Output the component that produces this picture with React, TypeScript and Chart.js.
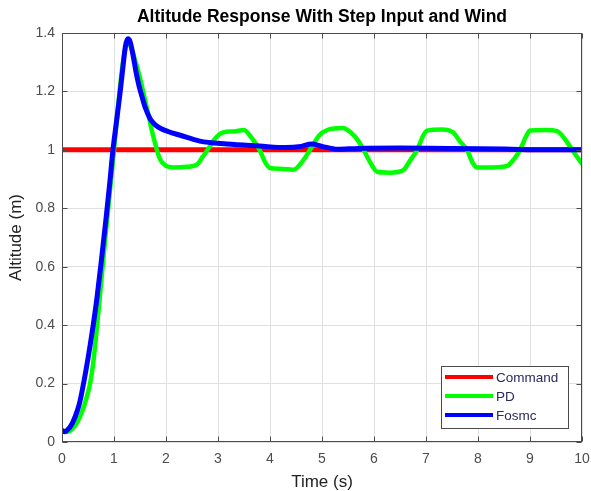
import { useEffect, useRef } from "react";
import { Chart, registerables } from "chart.js";

Chart.register(...registerables);

// Step command (m)
const timeCommand = [0, 10];
const altCommand = [1, 1];

// PD controller response under wind disturbance
const timePD = [
  0, 0.1, 0.2, 0.3, 0.4, 0.5, 0.54, 0.6, 0.67, 0.75, 0.85, 0.95, 1.0, 1.08, 1.15, 1.21, 1.27, 1.33,
  1.4, 1.48, 1.56, 1.65, 1.75, 1.88, 2.0, 2.13, 2.4, 2.6, 2.7, 2.8, 2.95, 3.1, 3.3, 3.5, 3.65, 3.8, 3.9,
  4.0, 4.2, 4.45, 4.6, 4.77, 4.95, 5.1, 5.4, 5.55, 5.7, 5.8, 5.95, 6.06, 6.3, 6.56, 6.7, 6.83, 6.95,
  7.02, 7.3, 7.52, 7.65, 7.79, 7.9, 7.98, 8.3, 8.56, 8.7, 8.81, 8.92, 9.0, 9.3, 9.52, 9.7, 9.85, 10,
];
const altPD = [
  0.04, 0.035, 0.045, 0.07, 0.11, 0.17, 0.2, 0.27, 0.39, 0.54, 0.73, 0.91, 1.0, 1.15, 1.27, 1.34, 1.365,
  1.35, 1.31, 1.26, 1.2, 1.13, 1.05, 0.97, 0.945, 0.94, 0.942, 0.95, 0.975, 1.0, 1.04, 1.06, 1.063, 1.068,
  1.04, 1.0, 0.96, 0.938, 0.935, 0.932, 0.955, 1.0, 1.05, 1.068, 1.075, 1.06, 1.03, 1.0, 0.95, 0.925,
  0.922, 0.93, 0.965, 1.0, 1.05, 1.066, 1.07, 1.06, 1.03, 1.0, 0.955, 0.94, 0.94, 0.945, 0.97, 1.0,
  1.045, 1.066, 1.068, 1.064, 1.03, 0.99, 0.952,
];

// Fractional-order sliding mode controller response
const timeFosmc = [
  0, 0.05, 0.1, 0.2, 0.3, 0.35, 0.45, 0.54, 0.6, 0.67, 0.75, 0.85, 0.92, 0.98, 1.05, 1.12, 1.17, 1.22,
  1.27, 1.31, 1.36, 1.42, 1.48, 1.55, 1.6, 1.7, 1.8, 1.9, 2.05, 2.27, 2.65, 3.17, 3.8, 4.3, 4.6, 4.8,
  5.0, 5.3, 5.7, 6.5, 7.5, 8.5, 9.3, 10,
];
const altFosmc = [
  0.04, 0.035, 0.04, 0.065, 0.11, 0.143, 0.235, 0.33, 0.4, 0.49, 0.61, 0.77, 0.89, 1.0, 1.1, 1.2, 1.28,
  1.355, 1.38, 1.37, 1.33, 1.27, 1.22, 1.175, 1.145, 1.105, 1.085, 1.073, 1.062, 1.05, 1.03, 1.02, 1.013,
  1.008, 1.012, 1.02, 1.012, 1.002, 1.005, 1.006, 1.005, 1.003, 1.0, 1.0,
];

const chartTitle = "Altitude Response With Step Input and Wind";
const xAxisTitle = "Time (s)";
const yAxisTitle = "Altitude (m)";
const seriesNames = ["Command", "PD", "Fosmc"];
const seriesColors = ["#ff0000", "#00ff00", "#0000ff"];
const xTickValues = [0, 1, 2, 3, 4, 5, 6, 7, 8, 9, 10];
const yTickValues = [0, 0.2, 0.4, 0.6, 0.8, 1, 1.2, 1.4];

const AXIS_COLOR = "#4a4a4a";
const GRID_COLOR = "#e0e0e0";
const TICK_COLOR = "#4d4d4d";
const FONT = "'Liberation Sans', Arial, sans-serif";

const toPoints = (xs: number[], ys: number[]) => xs.map((x, i) => ({ x, y: ys[i] }));

const decorations = {
  id: "decorations",
  afterDatasetsDraw(chart: any) {
    const { ctx, chartArea: a, scales } = chart;
    const L = Math.round(a.left) + 0.5;
    const R = Math.round(a.right) - 0.5;
    const T = Math.round(a.top) + 0.5;
    const B = Math.round(a.bottom) - 0.5;
    ctx.save();
    ctx.strokeStyle = AXIS_COLOR;
    ctx.lineWidth = 1;
    ctx.strokeRect(L, T, R - L, B - T);
    const tk = 5;
    ctx.beginPath();
    xTickValues.forEach((v) => {
      const px = Math.round(scales.x.getPixelForValue(v)) + 0.5;
      ctx.moveTo(px, B);
      ctx.lineTo(px, B - tk);
      ctx.moveTo(px, T);
      ctx.lineTo(px, T + tk);
    });
    yTickValues.forEach((v) => {
      const py = Math.round(scales.y.getPixelForValue(v)) + 0.5;
      ctx.moveTo(L, py);
      ctx.lineTo(L + tk, py);
      ctx.moveTo(R, py);
      ctx.lineTo(R - tk, py);
    });
    ctx.stroke();
    ctx.restore();
  },
  afterDraw(chart: any) {
    const { ctx, chartArea: a } = chart;
    ctx.save();
    // Title
    ctx.fillStyle = "#000000";
    ctx.font = `bold 17.5px ${FONT}`;
    ctx.textAlign = "center";
    ctx.textBaseline = "middle";
    ctx.fillText(chartTitle, (a.left + a.right) / 2, 17);

    // Legend box in the lower-right corner
    const bx = 441.5;
    const by = 366.5;
    const bw = 127;
    const bh = 62;
    ctx.fillStyle = "#ffffff";
    ctx.fillRect(bx, by, bw, bh);
    ctx.strokeStyle = AXIS_COLOR;
    ctx.lineWidth = 1;
    ctx.strokeRect(bx, by, bw, bh);
    const rows = [377, 396, 415];
    ctx.font = `13.5px ${FONT}`;
    ctx.textAlign = "left";
    seriesNames.forEach((name, i) => {
      ctx.strokeStyle = seriesColors[i];
      ctx.lineWidth = 4;
      ctx.beginPath();
      ctx.moveTo(445, rows[i]);
      ctx.lineTo(493, rows[i]);
      ctx.stroke();
      ctx.fillStyle = "#2a2a5e";
      ctx.fillText(name, 496, rows[i] + 1);
    });
    ctx.restore();
  },
};

export default function App() {
  const canvasRef = useRef<HTMLCanvasElement | null>(null);

  useEffect(() => {
    document.body.style.margin = "0";
    const canvas = canvasRef.current;
    if (!canvas) return;
    const chart = new Chart(canvas, {
      type: "line",
      data: {
        datasets: [
          {
            label: seriesNames[0],
            data: toPoints(timeCommand, altCommand),
            borderColor: seriesColors[0],
            borderWidth: 5,
            pointRadius: 0,
            order: 3,
          },
          {
            label: seriesNames[1],
            data: toPoints(timePD, altPD),
            borderColor: seriesColors[1],
            borderWidth: 4.5,
            pointRadius: 0,
            cubicInterpolationMode: "monotone",
            order: 2,
          },
          {
            label: seriesNames[2],
            data: toPoints(timeFosmc, altFosmc),
            borderColor: seriesColors[2],
            borderWidth: 5,
            pointRadius: 0,
            cubicInterpolationMode: "monotone",
            order: 1,
          },
        ],
      },
      options: {
        responsive: false,
        animation: false,
        events: [],
        layout: { padding: { top: 33, right: 9, left: 0, bottom: 0 } },
        plugins: {
          legend: { display: false },
          title: { display: false },
          tooltip: { enabled: false },
        },
        scales: {
          x: {
            type: "linear",
            min: 0,
            max: 10,
            afterFit: (s: any) => {
              s.height = 49;
              s.paddingLeft = 0;
              s.paddingRight = 0;
            },
            afterBuildTicks: (s: any) => {
              s.ticks = xTickValues.map((v) => ({ value: v }));
            },
            ticks: {
              color: TICK_COLOR,
              font: { family: FONT, size: 14 },
              padding: 9,
              maxRotation: 0,
              callback: (v: any) => String(v),
            },
            grid: { color: GRID_COLOR, drawTicks: false, lineWidth: 1 },
            border: { display: false },
            title: {
              display: true,
              text: xAxisTitle,
              color: "#222222",
              font: { family: FONT, size: 17, lineHeight: 1 },
              padding: { top: 0, bottom: 0 },
            },
          },
          y: {
            type: "linear",
            min: 0,
            max: 1.4,
            afterFit: (s: any) => {
              s.width = 62;
              s.paddingTop = 0;
              s.paddingBottom = 0;
            },
            afterBuildTicks: (s: any) => {
              s.ticks = yTickValues.map((v) => ({ value: v }));
            },
            ticks: {
              color: TICK_COLOR,
              font: { family: FONT, size: 14 },
              padding: 7,
              callback: (v: any) => String(Number(Number(v).toFixed(1))),
            },
            grid: { color: GRID_COLOR, drawTicks: false, lineWidth: 1 },
            border: { display: false },
            title: {
              display: true,
              text: yAxisTitle,
              color: "#222222",
              font: { family: FONT, size: 17, lineHeight: 1 },
              padding: { top: 8, bottom: 0 },
            },
          },
        },
      },
      plugins: [decorations],
    } as any);
    return () => chart.destroy();
  }, []);

  return (
    <div style={{ width: 591, height: 491 }}>
      <canvas ref={canvasRef} width={591} height={491} style={{ display: "block" }} />
    </div>
  );
}
